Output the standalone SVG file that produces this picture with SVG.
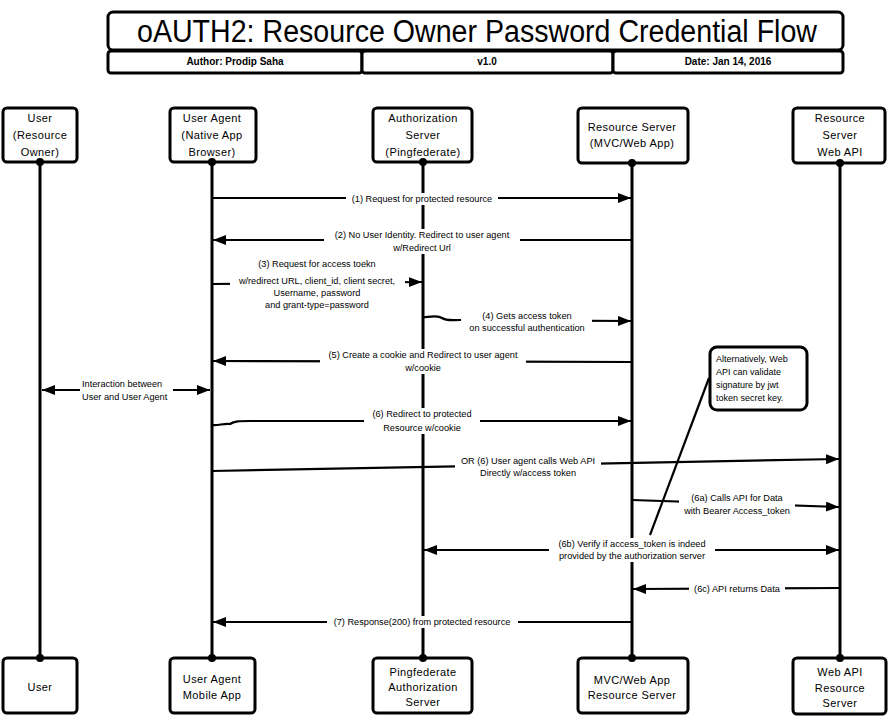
<svg xmlns="http://www.w3.org/2000/svg" width="893" height="718" viewBox="0 0 893 718">
<defs>
<marker id="ah" markerUnits="userSpaceOnUse" markerWidth="14" markerHeight="12" refX="13" refY="5" orient="auto-start-reverse">
<path d="M0,0 L13,5 L0,10 z" fill="#000"/>
</marker>
<style>
.box{fill:#fff;stroke:#000;stroke-width:3;stroke-linejoin:round}
.life{stroke:#000;stroke-width:3;fill:none}
.msg{stroke:#000;stroke-width:2.2;fill:none}
.dot{fill:#000}
.pl{font-family:"Liberation Sans",Arial,sans-serif;font-size:11px;letter-spacing:0.4px;text-anchor:middle;fill:#000}
.ml{font-family:"Liberation Sans",Arial,sans-serif;font-size:9.2px;text-anchor:middle;fill:#000}
.ms{font-family:"Liberation Sans",Arial,sans-serif;font-size:9.2px;text-anchor:start;fill:#000}
.nt{font-family:"Liberation Sans",Arial,sans-serif;font-size:9px;fill:#000}
.hd{font-family:"Liberation Sans",Arial,sans-serif;font-size:10px;font-weight:bold;text-anchor:middle;fill:#000}
.bg{fill:#fff}
</style>
</defs>
<rect width="893" height="718" fill="#fff"/>

<g id="header">
<rect class="box" x="108" y="12" width="735" height="38" rx="5"/>
<text x="477" y="42" font-family="'Liberation Sans',Arial,sans-serif" font-size="31" text-anchor="middle" textLength="680" lengthAdjust="spacingAndGlyphs">oAUTH2: Resource Owner Password Credential Flow</text>
<rect class="box" x="108" y="51" width="254" height="22" rx="3"/>
<rect class="box" x="362" y="51" width="251" height="22" rx="3"/>
<rect class="box" x="613" y="51" width="230" height="22" rx="3"/>
<text class="hd" x="235" y="65">Author: Prodip Saha</text>
<text class="hd" x="487" y="65">v1.0</text>
<text class="hd" x="728" y="65">Date: Jan 14, 2016</text>
</g>

<g id="lifelines">
<line class="life" x1="40" y1="162" x2="40" y2="658"/>
<line class="life" x1="212" y1="162" x2="212" y2="658"/>
<line class="life" x1="423" y1="162" x2="423" y2="658"/>
<line class="life" x1="632" y1="162" x2="632" y2="658"/>
<line class="life" x1="840" y1="162" x2="840" y2="658"/>
</g>

<g id="user-top">
<rect class="box" x="3" y="108" width="74" height="54" rx="4"/>
<text class="pl" x="40" y="122">User</text>
<text class="pl" x="40" y="139">(Resource</text>
<text class="pl" x="40" y="156">Owner)</text>
<circle class="dot" cx="40" cy="162" r="4"/>
</g>
<g id="useragent-top">
<rect class="box" x="170" y="108" width="86" height="54" rx="4"/>
<text class="pl" x="212" y="122">User Agent</text>
<text class="pl" x="212" y="139">(Native App</text>
<text class="pl" x="212" y="156">Browser)</text>
<circle class="dot" cx="212" cy="162" r="4"/>
</g>
<g id="authserver-top">
<rect class="box" x="373" y="108" width="99" height="54" rx="4"/>
<text class="pl" x="423" y="122">Authorization</text>
<text class="pl" x="423" y="139">Server</text>
<text class="pl" x="423" y="156">(Pingfederate)</text>
<circle class="dot" cx="423" cy="162" r="4"/>
</g>
<g id="resourceserver-top">
<rect class="box" x="578" y="108" width="110" height="55" rx="4"/>
<text class="pl" x="632" y="131">Resource Server</text>
<text class="pl" x="632" y="147">(MVC/Web App)</text>
<circle class="dot" cx="632" cy="163" r="4"/>
</g>
<g id="webapi-top">
<rect class="box" x="793" y="108" width="92" height="55" rx="4"/>
<text class="pl" x="840" y="122">Resource</text>
<text class="pl" x="840" y="139">Server</text>
<text class="pl" x="840" y="156">Web API</text>
<circle class="dot" cx="840" cy="163" r="4"/>
</g>

<g id="user-bottom">
<rect class="box" x="3" y="658" width="74" height="55" rx="4"/>
<text class="pl" x="40" y="691">User</text>
<circle class="dot" cx="40" cy="658" r="4"/>
</g>
<g id="useragent-bottom">
<rect class="box" x="170" y="658" width="85" height="55" rx="4"/>
<text class="pl" x="212" y="683">User Agent</text>
<text class="pl" x="212" y="699">Mobile App</text>
<circle class="dot" cx="212" cy="658" r="4"/>
</g>
<g id="authserver-bottom">
<rect class="box" x="373" y="658" width="99" height="55" rx="4"/>
<text class="pl" x="423" y="676">Pingfederate</text>
<text class="pl" x="423" y="691">Authorization</text>
<text class="pl" x="423" y="706">Server</text>
<circle class="dot" cx="423" cy="658" r="4"/>
</g>
<g id="resourceserver-bottom">
<rect class="box" x="578" y="658" width="110" height="55" rx="4"/>
<text class="pl" x="632" y="684">MVC/Web App</text>
<text class="pl" x="632" y="699">Resource Server</text>
<circle class="dot" cx="632" cy="658" r="4"/>
</g>
<g id="webapi-bottom">
<rect class="box" x="793" y="658" width="93" height="56" rx="4"/>
<text class="pl" x="840" y="676">Web API</text>
<text class="pl" x="840" y="692">Resource</text>
<text class="pl" x="840" y="707">Server</text>
<circle class="dot" cx="840" cy="658" r="4"/>
</g>

<g id="connectors">
<line class="msg" x1="212" y1="198" x2="631" y2="198" marker-end="url(#ah)"/>
<line class="msg" x1="632" y1="240" x2="213" y2="240" marker-end="url(#ah)"/>
<line class="msg" x1="212" y1="284" x2="422" y2="282" marker-end="url(#ah)"/>
<path class="msg" d="M423,317 C430,318 436,314 442,318 C446,321 452,320 460,320 L631,321" marker-end="url(#ah)"/>
<line class="msg" x1="632" y1="362" x2="213" y2="361" marker-end="url(#ah)"/>
<line class="msg" x1="42" y1="390" x2="210" y2="390" marker-start="url(#ah)" marker-end="url(#ah)"/>
<path class="msg" d="M212,425 C218,426 224,423 230,424 C234,421 240,421 250,421 L631,421" marker-end="url(#ah)"/>
<line class="msg" x1="212" y1="471" x2="839" y2="459" marker-end="url(#ah)"/>
<line class="msg" x1="632" y1="500" x2="839" y2="507" marker-end="url(#ah)"/>
<line class="msg" x1="424" y1="550" x2="839" y2="550" marker-start="url(#ah)" marker-end="url(#ah)"/>
<line class="msg" x1="841" y1="588" x2="633" y2="589" marker-end="url(#ah)"/>
<line class="msg" x1="632" y1="622" x2="213" y2="622" marker-end="url(#ah)"/>
<line class="msg" x1="709" y1="378" x2="650" y2="535"/>
</g>

<g id="labels">
<rect class="bg" x="346" y="193" width="152" height="12"/>
<text class="ml" x="422" y="202">(1) Request for protected resource</text>

<rect class="bg" x="324" y="229" width="196" height="25"/>
<text class="ml" x="422" y="238">(2) No User Identity. Redirect to user agent</text>
<text class="ml" x="422" y="251">w/Redirect Url</text>

<rect class="bg" x="230" y="258" width="175" height="52"/>
<text class="ml" x="317" y="267">(3) Request for access toekn</text>
<text class="ml" x="317" y="284">w/redirect URL, client_id, client secret,</text>
<text class="ml" x="317" y="296">Username, password</text>
<text class="ml" x="317" y="308">and grant-type=password</text>

<rect class="bg" x="461" y="310" width="131" height="24"/>
<text class="ml" x="527" y="319">(4) Gets access token</text>
<text class="ml" x="527" y="331">on successful authentication</text>

<rect class="bg" x="320" y="349" width="206" height="25"/>
<text class="ml" x="423" y="358">(5) Create a cookie and Redirect to user agent</text>
<text class="ml" x="423" y="371">w/cookie</text>

<rect class="bg" x="80" y="378" width="93" height="25"/>
<text class="ms" x="82" y="387">Interaction between</text>
<text class="ms" x="82" y="400">User and User Agent</text>

<rect class="bg" x="364" y="408" width="116" height="26"/>
<text class="ml" x="422" y="417">(6) Redirect to protected</text>
<text class="ml" x="422" y="431">Resource w/cookie</text>

<rect class="bg" x="455" y="455" width="146" height="24"/>
<text class="ml" x="528" y="464">OR (6) User agent calls Web API</text>
<text class="ml" x="528" y="476">Directly w/access token</text>

<rect class="bg" x="679" y="492" width="116" height="25"/>
<text class="ml" x="737" y="501">(6a) Calls API for Data</text>
<text class="ml" x="737" y="514">with Bearer Access_token</text>

<rect class="bg" x="549" y="538" width="166" height="24"/>
<text class="ml" x="632" y="547">(6b) Verify if access_token is indeed</text>
<text class="ml" x="632" y="559">provided by the authorization server</text>

<rect class="bg" x="689" y="583" width="96" height="12"/>
<text class="ml" x="737" y="592">(6c) API returns Data</text>

<rect class="bg" x="327" y="616" width="191" height="12"/>
<text class="ml" x="422" y="625">(7) Response(200) from protected resource</text>
</g>

<g id="note">
<rect class="box" x="710" y="347" width="97" height="63" rx="7"/>
<text class="nt" x="716" y="362">Alternatively, Web</text>
<text class="nt" x="716" y="375">API can validate</text>
<text class="nt" x="716" y="388">signature by jwt</text>
<text class="nt" x="716" y="401">token secret key.</text>
</g>
</svg>
